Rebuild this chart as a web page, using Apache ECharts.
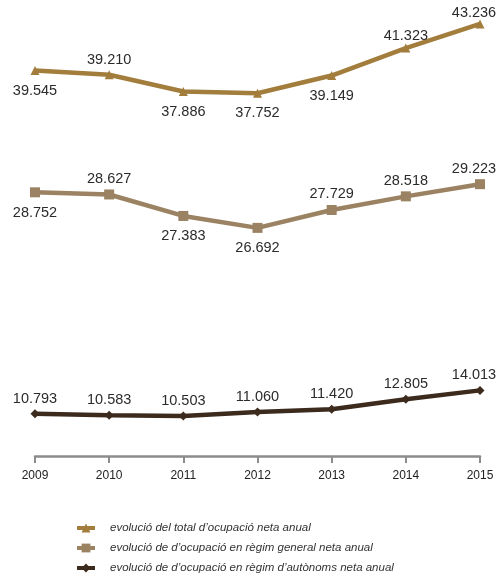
<!DOCTYPE html>
<html>
<head>
<meta charset="utf-8">
<script src="https://cdn.jsdelivr.net/npm/echarts@6/dist/echarts.min.js"></script>
<style>html,body{margin:0;padding:0;background:#fff}#c{width:501px;height:578px}</style>
</head>
<body>
<div id="c"></div>
<script>
var years = ['2009','2010','2011','2012','2013','2014','2015'];
var totalOcupacio = [39.545, 39.210, 37.886, 37.752, 39.149, 41.323, 43.236];
var regimGeneral = [28.752, 28.627, 27.383, 26.692, 27.729, 28.518, 29.223];
var regimAutonoms = [10.793, 10.583, 10.503, 11.060, 11.420, 12.805, 14.013];
var seriesNames = [
  'evolució del total d’ocupació neta anual',
  'evolució de d’ocupació en règim general neta anual',
  'evolució de d’ocupació en règim d’autònoms neta anual'
];

var labelPlace = [
  ['bottom','top','bottom','bottom','bottom','top','top'],
  ['bottom','top','bottom','bottom','top','top','top'],
  ['top','top','top','top','top','top','top']
];
var labelDist = [
  [8,3,8,8,8,0,-1],
  [8,3,8,8,3,3,3],
  [3,3,3,3,3,3,3]
];
function fmt(v){ return v.toFixed(3); }
function items(arr, k){
  var last = arr.length - 1;
  return arr.map(function(v,i){
    return {value: v, label: {position: labelPlace[k][i], distance: labelDist[k][i],
      offset: i === last ? [-6, 0] : [0, 0]}};
  });
}
var colors = ['#a27d3c', '#9b8262', '#3c2a1d'];
var chart = echarts.init(document.getElementById('c'));
var lbl = {show: true, fontFamily: 'Liberation Sans', fontSize: 14.5, color: '#2b2b2b',
  formatter: function(p){ return fmt(p.value); }};
var legendTops = [522, 542, 562];
var legends = seriesNames.map(function(n, i){
  return {
    orient: 'vertical', left: 75, top: legendTops[i], padding: 0, itemWidth: 18, itemHeight: 11,
    lineStyle: {width: 4},
    textStyle: {fontFamily: 'Liberation Sans', fontSize: 11.5, fontStyle: 'italic', color: '#333', padding: [0,0,0,10]},
    data: [n]
  };
});
chart.setOption({
  animation: false,
  color: colors,
  grid: {left: 35, right: 21, top: 0, bottom: 122},
  xAxis: {
    type: 'category', data: years, boundaryGap: false,
    axisLine: {lineStyle: {color: '#8c8c8c', width: 2.5}},
    axisTick: {show: true, length: 7, inside: false, lineStyle: {color: '#8c8c8c', width: 2}},
    axisLabel: {fontFamily: 'Liberation Sans', fontSize: 12, color: '#222', margin: 14}
  },
  yAxis: [
    {type: 'value', min: 9.03, max: 45.13, show: false},
    {type: 'value', min: 13.48, max: 39.89, show: false},
    {type: 'value', min: 5.0, max: 67.64, show: false}
  ],
  legend: legends,
  series: [
    {name: seriesNames[0], type: 'line', yAxisIndex: 0, data: items(totalOcupacio, 0),
     symbol: 'triangle', symbolSize: 9, lineStyle: {width: 4.5}, label: lbl},
    {name: seriesNames[1], type: 'line', yAxisIndex: 1, data: items(regimGeneral, 1),
     symbol: 'rect', symbolSize: 10, lineStyle: {width: 4.5}, label: lbl},
    {name: seriesNames[2], type: 'line', yAxisIndex: 2, data: items(regimAutonoms, 2),
     symbol: 'diamond', symbolSize: 9, lineStyle: {width: 4.5}, label: lbl}
  ]
});
</script>
</body>
</html>
